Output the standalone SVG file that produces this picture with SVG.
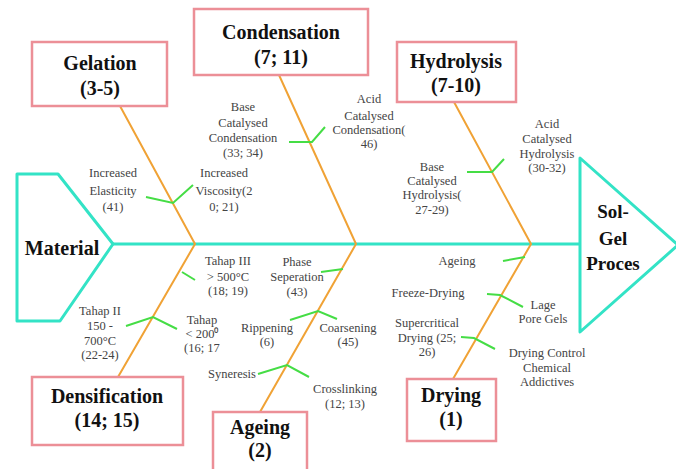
<svg xmlns="http://www.w3.org/2000/svg" width="676" height="469" viewBox="0 0 676 469">
<style>
.box{fill:#fff;stroke:#ec8f97;stroke-width:2.5}
.head{fill:#fff;stroke:#33e3c6;stroke-width:3;stroke-linejoin:round}
.spine{stroke:#33e3c6;stroke-width:3;fill:none}
.bone{stroke:#f0a235;stroke-width:2;fill:none}
.sub{stroke:#45dd45;stroke-width:2;fill:none}
.t{font-family:"Liberation Serif",serif;font-weight:bold;font-size:20px;fill:#111;text-anchor:middle}
.s{font-family:"Liberation Serif",serif;font-size:12.5px;fill:#444;text-anchor:middle}
</style>
<rect width="676" height="469" fill="#fff"/>
<g id="connectors">
<line class="spine" x1="113" y1="244" x2="580" y2="244"/>
<polyline class="bone" points="120,106 195,244 118,377"/>
<polyline class="bone" points="279,75 356,244 260,412"/>
<polyline class="bone" points="454,102 531,244 453,379"/>
<polyline class="sub" points="146,197 173,203 193,185"/>
<polyline class="sub" points="289,142 312,142 325,127"/>
<polyline class="sub" points="467,172 492,172 504,159"/>
<line class="sub" x1="182" y1="272" x2="195" y2="280"/>
<polyline class="sub" points="126,326 153,317 177,329"/>
<line class="sub" x1="343" y1="269" x2="321" y2="272"/>
<polyline class="sub" points="290,320 318,311 337,319"/>
<polyline class="sub" points="258,374 287,365 309,377"/>
<line class="sub" x1="525" y1="257" x2="503" y2="261"/>
<polyline class="sub" points="487,294 500,295 523,307"/>
<polyline class="sub" points="461,337 474,338 495,349"/>
</g>
<g id="material">
<polygon class="head" points="17,174 58,174 113,244 60,321 17,321"/>
<text class="t" x="62" y="255">Material</text>
</g>
<g id="solgel">
<polygon class="head" points="580,158 678,245 580,332"/>
<text class="t" style="font-size:19px" x="613" y="218">Sol-</text>
<text class="t" style="font-size:19px" x="613" y="245">Gel</text>
<text class="t" style="font-size:19px" x="613" y="270">Proces</text>
</g>
<g id="gelation">
<rect class="box" x="32" y="42" width="135" height="64"/>
<text class="t" x="100" y="70">Gelation</text>
<text class="t" x="100" y="95">(3-5)</text>
</g>
<g id="condensation">
<rect class="box" x="194" y="9" width="174" height="66"/>
<text class="t" x="281" y="39">Condensation</text>
<text class="t" x="281" y="64">(7; 11)</text>
</g>
<g id="hydrolysis">
<rect class="box" x="397" y="42" width="119" height="60"/>
<text class="t" x="456" y="68">Hydrolysis</text>
<text class="t" x="456" y="92">(7-10)</text>
</g>
<g id="densification">
<rect class="box" x="32" y="377" width="151" height="68"/>
<text class="t" x="107" y="403">Densification</text>
<text class="t" x="107" y="427">(14; 15)</text>
</g>
<g id="ageing">
<rect class="box" x="213" y="412" width="94" height="60"/>
<text class="t" x="260" y="434">Ageing</text>
<text class="t" x="260" y="457">(2)</text>
</g>
<g id="drying">
<rect class="box" x="407" y="379" width="89" height="62"/>
<text class="t" x="451" y="402">Drying</text>
<text class="t" x="451" y="426">(1)</text>
</g>
<g id="labels">
<text class="s" x="113" y="177">Increased</text>
<text class="s" x="113" y="195">Elasticity</text>
<text class="s" x="113" y="211">(41)</text>
<text class="s" x="224" y="177">Increased</text>
<text class="s" x="224" y="195">Viscosity(2</text>
<text class="s" x="224" y="211">0; 21)</text>
<text class="s" x="243" y="111">Base</text>
<text class="s" x="243" y="127">Catalysed</text>
<text class="s" x="243" y="142">Condensation</text>
<text class="s" x="243" y="157">(33; 34)</text>
<text class="s" x="369" y="103">Acid</text>
<text class="s" x="369" y="120">Catalysed</text>
<text class="s" x="369" y="134">Condensation(</text>
<text class="s" x="369" y="148">46)</text>
<text class="s" x="432" y="171">Base</text>
<text class="s" x="432" y="185">Catalysed</text>
<text class="s" x="432" y="199">Hydrolysis(</text>
<text class="s" x="432" y="214">27-29)</text>
<text class="s" x="547" y="128">Acid</text>
<text class="s" x="547" y="143">Catalysed</text>
<text class="s" x="547" y="158">Hydrolysis</text>
<text class="s" x="547" y="172">(30-32)</text>
<text class="s" x="228" y="265">Tahap III</text>
<text class="s" x="228" y="281">&gt; 500°C</text>
<text class="s" x="228" y="295">(18; 19)</text>
<text class="s" x="100" y="315">Tahap II</text>
<text class="s" x="100" y="330">150 -</text>
<text class="s" x="100" y="345">700°C</text>
<text class="s" x="100" y="359">(22-24)</text>
<text class="s" x="202" y="324">Tahap</text>
<text class="s" x="202" y="338">&lt; 200⁰</text>
<text class="s" x="202" y="352">(16; 17</text>
<text class="s" x="297" y="266">Phase</text>
<text class="s" x="297" y="281">Seperation</text>
<text class="s" x="297" y="296">(43)</text>
<text class="s" x="267" y="332">Rippening</text>
<text class="s" x="267" y="346">(6)</text>
<text class="s" x="348" y="332">Coarsening</text>
<text class="s" x="348" y="346">(45)</text>
<text class="s" x="232" y="378">Syneresis</text>
<text class="s" x="345" y="393">Crosslinking</text>
<text class="s" x="345" y="408">(12; 13)</text>
<text class="s" x="457" y="265">Ageing</text>
<text class="s" x="428" y="297">Freeze-Drying</text>
<text class="s" x="543" y="309">Lage</text>
<text class="s" x="543" y="323">Pore Gels</text>
<text class="s" x="427" y="327">Supercritical</text>
<text class="s" x="427" y="342">Drying (25;</text>
<text class="s" x="427" y="356">26)</text>
<text class="s" x="547" y="357">Drying Control</text>
<text class="s" x="547" y="372">Chemical</text>
<text class="s" x="547" y="386">Addictives</text>
</g>
</svg>
